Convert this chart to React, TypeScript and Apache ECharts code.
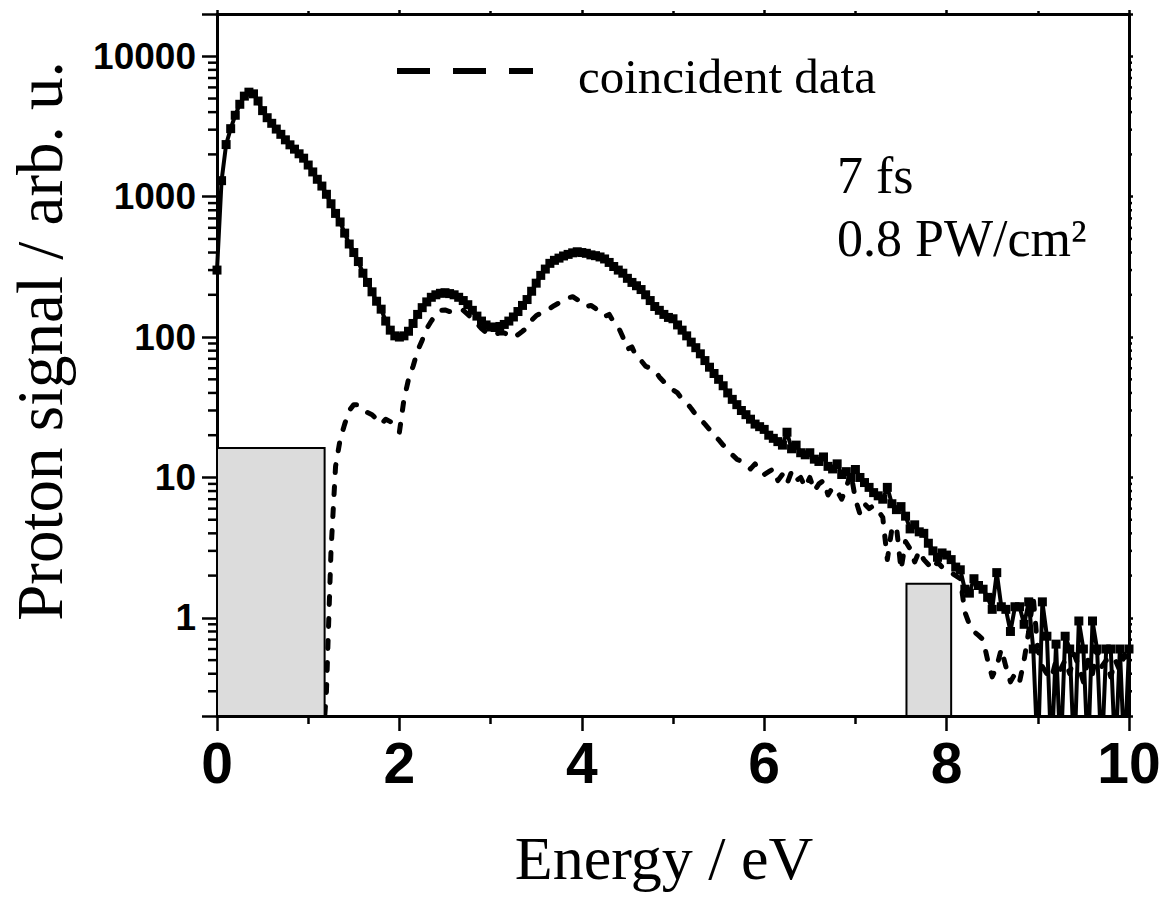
import React, { useEffect, useRef } from "react";
import * as echarts from "echarts";

// Energy grid step (eV) of the recorded spectra, starting at 0 eV
const ENERGY_STEP = 0.05;

// Proton signal (all events), 0.00 ... 10.00 eV in 0.05 eV steps
const solidSignal: number[] = [
  // 0.00 - 0.95
  300, 1300, 2350, 3050, 3800, 4550, 5200, 5550, 5400, 4800, 4100, 3650, 3330, 3030, 2780, 2540, 2340, 2180, 2020, 1880,
  // 1.00 - 1.95
  1680, 1500, 1330, 1190, 1040, 890, 760, 660, 550, 460, 400, 345, 285, 245, 210, 180, 158, 130, 112, 102,
  // 2.00 - 2.95
  100, 102, 110, 125, 145, 162, 178, 192, 200, 205, 207, 204, 200, 192, 182, 170, 155, 141, 130, 122,
  // 3.00 - 3.95
  118, 117, 119, 123, 130, 139, 152, 168, 185, 212, 242, 275, 305, 335, 352, 365, 378, 388, 398, 405,
  // 4.00 - 4.95
  400, 395, 385, 380, 372, 360, 340, 318, 300, 285, 262, 245, 232, 218, 200, 182, 165, 155, 145, 138,
  // 5.00 - 5.95
  135, 122, 112, 102, 92, 84, 76, 68, 61, 55, 50, 45, 40, 36, 33, 30, 28, 26, 24, 23,
  // 6.00 - 6.95
  22, 20, 19, 18, 17, 21, 16, 17, 15, 14.5, 15, 13.5, 13, 14, 12, 11.5, 12.5, 10.5, 11, 10,
  // 7.00 - 7.95
  11.4, 10, 9.2, 8.5, 7.8, 7.4, 7.0, 8.5, 6.5, 5.9, 6.2, 5.3, 4.3, 4.6, 4.1, 4.0, 3.4, 3.0, 2.7, 2.9,
  // 8.00 - 8.95
  2.8, 2.6, 2.3, 2.2, 1.6, 1.5, 1.9, 1.7, 1.6, 1.4, 1.15, 2.1, 1.2, 1.15, 0.8, 1.2, 1.2, 0.9, 1.3, 0.6,
  // 9.00 - 10.00 (0.1 = empty bin, below the axis floor)
  0.1, 1.3, 0.74, 0.1, 0.65, 0.1, 0.74, 0.6, 0.1, 0.95, 0.6, 0.1, 0.95, 0.6, 0.1, 0.6, 0.6, 0.1, 0.6, 0.1, 0.6,
];

// Coincident data, same grid (null = not recorded)
const coincidentSignal: (number | null)[] = [
  // 0.00 - 0.95
  null, null, null, null, null, null, null, null, null, null, null, null, null, null, null, null, null, null, null, null,
  // 1.00 - 1.95
  null, null, null, 0.1, 0.3, 3, 12, 18.6, 24, 30, 33, 33, 31, 29, 28, 26, 24, 26, 25, 23,
  // 2.00 - 2.95
  21, 36, 50, 62, 80, 95, 115, 130, 145, 155, 156, 152, 154, 157, 155, 145, 135, 125, 115, 108,
  // 3.00 - 3.95
  104, 105, 107, 107, 103, 99, 104, 110, 117, 132, 142, 148, 152, 160, 168, 175, 182, 190, 194, 185,
  // 4.00 - 4.95
  170, 165, 168, 160, 150, 140, 145, 128, 118, 100, 82, 85, 72, 68, 62, 60, 58, 52, 48, 45,
  // 5.00 - 5.95
  42, 40, 36, 34, 31, 28, 26, 24, 22, 20, 18.6, 17, 16, 14.5, 13.5, 13, 12.4, 11.5, 12.5, 11,
  // 6.00 - 6.95
  10.5, 11, 11.5, 9.5, 10.5, 9, 11, 9.5, 10, 8.5, 10, 8, 9, 9.5, 7.5, 8.5, 8, 7, 8.5, 10.8,
  // 7.00 - 7.95
  7, 5.5, 6.5, 6, 6.3, 5.8, 5.2, 2.6, 4.3, 4.5, 2.2, 3.5, 3.1, 2.5, 3, 2.6, 2.4, 2.2, 2.5, 2.3,
  // 8.00 - 8.95
  2.2, 2.1, 2.0, 1.9, 1.1, 0.9, 0.8, 0.75, 0.7, 0.5, 0.38, 0.45, 0.6, 0.45, 0.35, 0.4, 0.35, 0.5, 0.8, 1.4,
  // 9.00 - 10.00
  0.6, 0.45, 0.4, 0.37, 0.5, 0.43, 0.5, 0.4, 0.55, 0.45, 0.35, 0.5, 0.4, 0.6, 0.45, 0.5, 0.38, 0.5, 0.42, 0.55, 0.45,
];

// Shaded (excluded) energy windows: [E start, E end, signal floor, signal top]
const shadedRegions: number[][] = [
  [0, 1.18, 0.2, 16.2],
  [7.56, 8.05, 0.2, 1.75],
];

// Logarithmic minor tick values on the signal axis
const yMinorTickValues: number[] = [
  0.3, 0.4, 0.5, 0.6, 0.7, 0.8, 0.9,
  2, 3, 4, 5, 6, 7, 8, 9,
  20, 30, 40, 50, 60, 70, 80, 90,
  200, 300, 400, 500, 600, 700, 800, 900,
  2000, 3000, 4000, 5000, 6000, 7000, 8000, 9000,
];

const X_MIN = 0;
const X_MAX = 10;
const X_INTERVAL = 2;
const Y_MIN = 0.2;
const Y_MAX = 20000;

const legendLabel = "coincident data";
const annotationLines = ["7 fs", "0.8 PW/cm\u00B2"];
const xTitle = "Energy / eV";
const yTitle = "Proton signal / arb. u.";

const SERIF = "'Liberation Serif', 'Times New Roman', Times, serif";
const SANS = "'Liberation Sans', Arial, Helvetica, sans-serif";

function toPoints(values: (number | null)[]) {
  const pts: [number, number][] = [];
  values.forEach((v, i) => {
    if (v !== null) pts.push([Math.round(i * ENERGY_STEP * 100) / 100, v]);
  });
  return pts;
}

function textEl(text: string, x: number, y: number, fontSize: number, align: string, extra: any = {}) {
  return {
    type: "text",
    x,
    y,
    z: 10,
    ...extra,
    style: {
      text,
      fontSize,
      fontFamily: SERIF,
      fill: "#000",
      align,
      verticalAlign: "middle",
      textAlign: align,
      textVerticalAlign: "middle",
    },
  };
}

function buildOption(): any {
  const axisLineStyle = { color: "#000", width: 3 };
  const tickStyle = { color: "#000", width: 2.5 };
  return {
    animation: false,
    backgroundColor: "#fff",
    grid: { left: 217, right: 36, top: 14, bottom: 183, show: false },
    xAxis: [
      {
        type: "value",
        min: X_MIN,
        max: X_MAX,
        interval: X_INTERVAL,
        position: "bottom",
        axisLine: { show: true, onZero: false, lineStyle: axisLineStyle },
        axisTick: { show: true, length: 15, lineStyle: tickStyle },
        minorTick: { show: true, splitNumber: 2, length: 8, lineStyle: tickStyle },
        axisLabel: {
          fontFamily: SANS,
          fontWeight: "bold",
          fontSize: 57,
          color: "#000",
          margin: 18,
        },
        splitLine: { show: false },
      },
      {
        type: "value",
        min: X_MIN,
        max: X_MAX,
        interval: X_INTERVAL,
        position: "top",
        axisLine: { show: true, onZero: false, lineStyle: axisLineStyle },
        axisTick: { show: true, length: 4, lineStyle: tickStyle },
        minorTick: { show: true, splitNumber: 2, length: 3, lineStyle: tickStyle },
        axisLabel: { show: false },
        splitLine: { show: false },
      },
    ],
    yAxis: [
      {
        type: "log",
        logBase: 10,
        min: Y_MIN,
        max: Y_MAX,
        position: "left",
        axisLine: { show: true, onZero: false, lineStyle: axisLineStyle },
        axisTick: { show: true, length: 15, lineStyle: tickStyle },
        axisLabel: {
          fontFamily: SANS,
          fontWeight: "bold",
          fontSize: 37,
          color: "#000",
          margin: 21,
          formatter: (v: number) => {
            const l = Math.log10(v);
            return Math.abs(l - Math.round(l)) < 1e-6 ? String(Math.round(v)) : "";
          },
        },
        splitLine: { show: false },
      },
      {
        type: "log",
        logBase: 10,
        min: Y_MIN,
        max: Y_MAX,
        position: "right",
        axisLine: { show: true, onZero: false, lineStyle: axisLineStyle },
        axisTick: { show: true, length: 4, lineStyle: tickStyle },
        axisLabel: { show: false },
        splitLine: { show: false },
      },
    ],
    series: [
      {
        name: "all events",
        type: "line",
        xAxisIndex: 0,
        yAxisIndex: 0,
        data: toPoints(solidSignal),
        symbol: "rect",
        symbolSize: 9,
        showAllSymbol: true,
        lineStyle: { color: "#000", width: 4 },
        itemStyle: { color: "#000" },
        z: 3,
      },
      {
        name: legendLabel,
        type: "line",
        xAxisIndex: 0,
        yAxisIndex: 0,
        data: toPoints(coincidentSignal),
        symbol: "none",
        lineStyle: { color: "#000", width: 5, type: [8, 14], cap: "round", join: "round" },
        z: 4,
      },
      {
        type: "custom",
        xAxisIndex: 0,
        yAxisIndex: 0,
        data: shadedRegions,
        encode: { x: [0, 1], y: [2, 3] },
        silent: true,
        z: 5,
        renderItem: (_params: any, api: any) => {
          const tl = api.coord([api.value(0), api.value(3)]);
          const br = api.coord([api.value(1), api.value(2)]);
          return {
            type: "rect",
            shape: { x: tl[0], y: tl[1], width: br[0] - tl[0], height: br[1] - tl[1] },
            style: { fill: "#dcdcdc", stroke: "#000", lineWidth: 2 },
          };
        },
      },
      {
        type: "custom",
        xAxisIndex: 0,
        yAxisIndex: 0,
        data: yMinorTickValues.map((v) => [X_MIN, v]),
        encode: { x: 0, y: 1 },
        silent: true,
        clip: false,
        z: 6,
        renderItem: (_params: any, api: any) => {
          const v = api.value(1);
          const pl = api.coord([X_MIN, v]);
          const pr = api.coord([X_MAX, v]);
          return {
            type: "group",
            children: [
              {
                type: "line",
                shape: { x1: pl[0] - 9, y1: pl[1], x2: pl[0], y2: pl[1] },
                style: { stroke: "#000", lineWidth: 2.5 },
              },
              {
                type: "line",
                shape: { x1: pr[0], y1: pr[1], x2: pr[0] + 3, y2: pr[1] },
                style: { stroke: "#000", lineWidth: 2.5 },
              },
            ],
          };
        },
      },
    ],
    graphic: [
      {
        type: "line",
        shape: { x1: 397, y1: 71, x2: 533, y2: 71 },
        style: { stroke: "#000", lineWidth: 6, lineDash: [33, 23] },
        z: 10,
      },
      textEl(legendLabel, 578, 76, 49, "left"),
      textEl(annotationLines[0], 837, 175, 52, "left"),
      textEl(annotationLines[1], 837, 238, 52, "left"),
      textEl(xTitle, 664, 858, 62, "center"),
      textEl(yTitle, 40, 341, 65, "center", { rotation: Math.PI / 2 }),
    ],
  };
}

export default function App() {
  const ref = useRef<HTMLDivElement>(null);
  useEffect(() => {
    if (!ref.current) return;
    const chart = echarts.init(ref.current, null, { renderer: "svg" });
    chart.setOption(buildOption());
    return () => {
      chart.dispose();
    };
  }, []);
  return (
    <div
      ref={ref}
      style={{ position: "absolute", left: 0, top: 0, width: 1165, height: 899, background: "#fff" }}
    />
  );
}
